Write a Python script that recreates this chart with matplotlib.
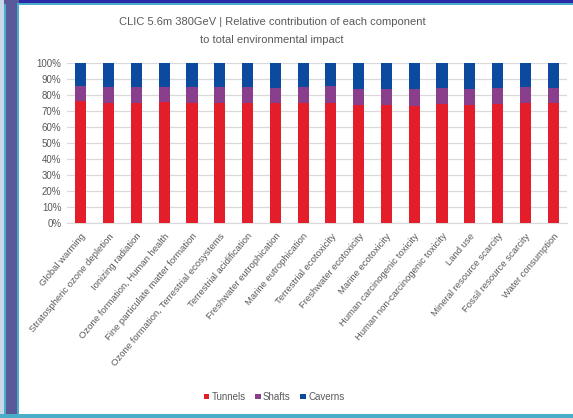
import matplotlib.pyplot as plt
from matplotlib.patches import Rectangle
import numpy as np

categories = [
    "Global warming", "Stratospheric ozone depletion", "Ionizing radiation",
    "Ozone formation, Human health", "Fine particulate matter formation",
    "Ozone formation, Terrestrial ecosystems", "Terrestrial acidification",
    "Freshwater eutrophication", "Marine eutrophication", "Terrestrial ecotoxicity",
    "Freshwater ecotoxicity", "Marine ecotoxicity", "Human carcinogenic toxicity",
    "Human non-carcinogenic toxicity", "Land use", "Mineral resource scarcity",
    "Fossil resource scarcity", "Water consumption",
]
tunnels = [76.1, 75.1, 75.0, 75.4, 75.0, 75.2, 75.0, 74.6, 75.0,
           75.0, 73.6, 73.6, 72.8, 74.2, 73.6, 74.2, 75.0, 75.0]
shafts = [9.6, 9.8, 9.6, 9.5, 9.6, 9.7, 9.6, 9.8, 9.6,
          10.2, 10.1, 10.1, 10.7, 10.2, 9.9, 10.2, 10.0, 9.4]
caverns = [100 - t - s for t, s in zip(tunnels, shafts)]

c_tun = '#E31E2A'
c_sha = '#8A3F8C'
c_cav = '#0B4A9F'
grey = '#595959'

plt.rcParams['font.family'] = ['Liberation Sans', 'DejaVu Sans']

fig = plt.figure(figsize=(5.73, 4.18), dpi=100)
fig.patch.set_facecolor('#2a2aa8')
# frame around the chart panel (pixel boxes, measured from bottom-left)
frame = [
    ((0, 0), 19, 418, '#5a5a9a'),
    ((0, 0), 4, 418, '#c8d8e8'),
    ((4, 0), 2, 414, '#4aaec8'),
    ((17, 0), 556, 415, '#4aaec8'),
    ((19, 4), 554, 409, 'white'),
    ((0, 0), 573, 4, '#4aaec8'),
]
for (x0, y0), w0, h0, col in frame:
    fig.patches.append(Rectangle((x0 / 573, y0 / 418), w0 / 573, h0 / 418,
                                 transform=fig.transFigure, facecolor=col,
                                 edgecolor='none', zorder=-5))

ax = fig.add_axes([67 / 573, 1 - 223.3 / 418, 500 / 573, 160.6 / 418])
ax.set_zorder(2)
ax.set_facecolor('none')

x = np.arange(len(categories))
w = 0.4
ax.bar(x, tunnels, w, color=c_tun, label='Tunnels', zorder=3)
ax.bar(x, shafts, w, bottom=tunnels, color=c_sha, label='Shafts', zorder=3)
ax.bar(x, caverns, w, bottom=np.array(tunnels) + np.array(shafts),
       color=c_cav, label='Caverns', zorder=3)

ax.set_xlim(-0.5, len(categories) - 0.5)
ax.set_ylim(0, 100)
ax.set_yticks(range(0, 101, 10))
ax.set_yticklabels([f'{v}%' for v in range(0, 101, 10)], fontsize=7, color=grey)
ax.set_xticks(x)
ax.set_xticklabels(categories, rotation=50, ha='right', rotation_mode='anchor',
                   fontsize=6.8, color=grey)
ax.tick_params(length=0, pad=4)
ax.tick_params(axis='x', pad=6)
ax.grid(axis='y', color='#D9D9D9', linewidth=0.9, zorder=0)
for s in ['top', 'right', 'left']:
    ax.spines[s].set_visible(False)
ax.spines['bottom'].set_color('#D9D9D9')

fig.text(272 / 573, 1 - 22 / 418, 'CLIC 5.6m 380GeV | Relative contribution of each component',
         ha='center', va='center', fontsize=8, color=grey)
fig.text(272 / 573, 1 - 40 / 418, 'to total environmental impact',
         ha='center', va='center', fontsize=8, color=grey)

fig.legend(loc='center', bbox_to_anchor=(274 / 573, 1 - 397 / 418), ncol=3,
           frameon=False, fontsize=7, labelcolor=grey, handlelength=0.55,
           handleheight=0.55, handletextpad=0.25, columnspacing=1.0)

fig.savefig('out.png', dpi=100)
